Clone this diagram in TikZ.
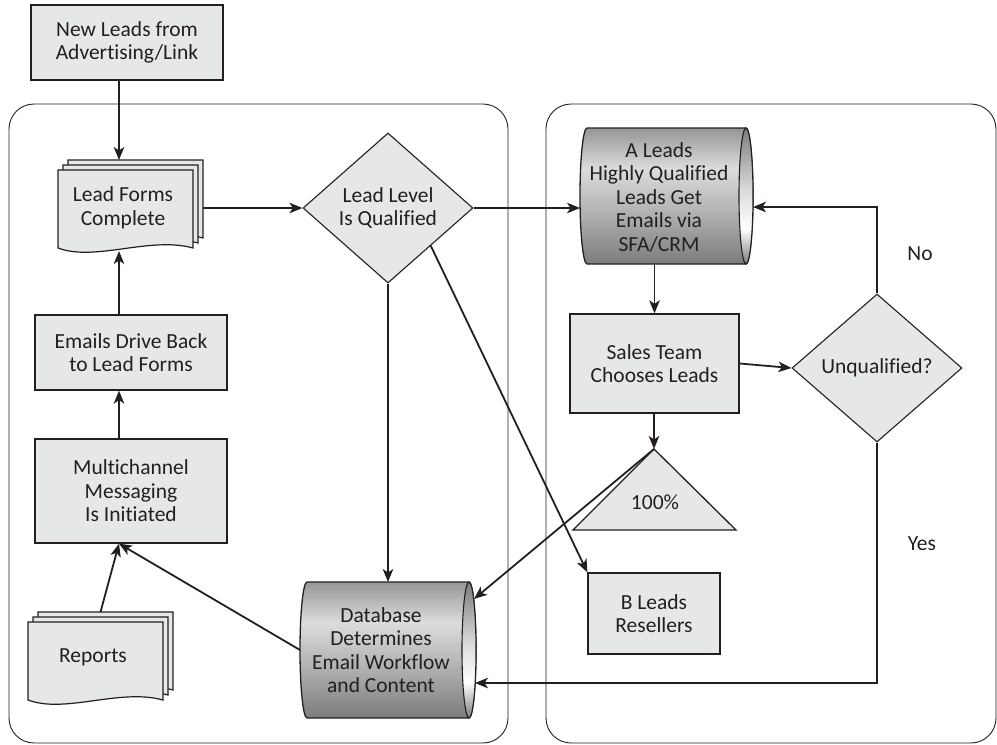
\documentclass[tikz,border=0pt]{standalone}
\usepackage{fontspec}
\setmainfont[Ligatures=NoCommon]{Carlito}
\usetikzlibrary{shapes.geometric,arrows.meta,calc}
\pgfdeclarelayer{bg}
\pgfsetlayers{bg,main}
\definecolor{boxfill}{HTML}{E6E7E8}
\definecolor{ink}{HTML}{231F20}
\definecolor{cylD}{HTML}{7C7C7C}
\definecolor{cylM}{HTML}{ACACAC}
\definecolor{cylL}{HTML}{DCDCDC}
\definecolor{cylT}{HTML}{969696}
\pgfdeclareverticalshading{cylbody}{100bp}{color(0bp)=(cylD); color(25bp)=(cylD); color(42bp)=(cylM); color(60bp)=(cylL); color(75bp)=(cylT); color(100bp)=(cylT)}
\pgfdeclareverticalshading{cylcap}{100bp}{color(0bp)=(cylD); color(25bp)=(cylD); color(38bp)=(white); color(52bp)=(cylL); color(75bp)=(cylD); color(100bp)=(cylD)}
\newcommand\dfont{\fontsize{21.5}{23.5}\selectfont}
\newcommand\docpage[2]{%
  \path[docpg] (#1,#2) -- ++(135,0) -- ++(0,78)
    .. controls ($(#1,#2)+(92,66)$) and ($(#1,#2)+(37,92)$) .. ($(#1,#2)+(0,78)$) -- cycle;}
\newcommand\cylshape[3]{% node name, x radius, y radius
  \path[cylbd] ($(#1.north west)+(#2,0)$) -- ($(#1.north east)+(-#2,0)$)
    arc[start angle=-90,end angle=90,x radius=#2,y radius=#3]
    -- ($(#1.south west)+(#2,0)$)
    arc[start angle=90,end angle=270,x radius=#2,y radius=#3] -- cycle;
  \path[cylcp] ($(#1.east)+(-#2,0)$) ellipse[x radius=#2,y radius=#3];}
\begin{document}
\begin{tikzpicture}[x=1pt,y=-1pt,
  box/.style={draw=ink,line width=1.3pt,fill=boxfill,align=center,inner sep=0pt,font=\dfont,text=ink},
  dmd/.style={diamond,draw=ink,line width=1.1pt,fill=boxfill,align=center,inner sep=0pt,font=\dfont,text=ink},
  anchorbox/.style={inner sep=0pt,outer sep=0pt},
  txt/.style={align=center,inner sep=0pt,font=\dfont,text=ink},
  docpg/.style={draw=ink,line width=1.2pt,fill=boxfill},
  cylbd/.style={draw=ink,line width=1.3pt,shading=cylbody},
  cylcp/.style={draw=ink,line width=1.1pt,shading=cylcap},
  panel/.style={draw=ink,line width=0.9pt,rounded corners=25pt},
  arr/.style={draw=ink,line width=1.8pt,-{Stealth[length=13pt,width=10.5pt,inset=3.5pt]}}]
\useasboundingbox (0,0) rectangle (997,745);
% panels
\path[panel] (9,104) rectangle (508,743);
\path[panel] (546,104) rectangle (996,743);
% helper column
\coordinate (col) at (119,0);
% nodes
\node[box,minimum width=192pt,minimum height=75pt] (newleads) at (127,42.5) {New Leads from\\Advertising/Link};
\node[anchorbox,minimum width=145pt,minimum height=91pt] (leadforms) at (130.5,205.5) {};
\node[txt] (leadformslbl) at (123,208) {Lead Forms\\Complete};
\node[box,minimum width=192pt,minimum height=75pt] (emails) at (131,352.5) {Emails Drive Back\\to Lead Forms};
\node[box,minimum width=192pt,minimum height=104pt] (multi) at (131,491) {Multichannel\\Messaging\\Is Initiated};
\node[anchorbox,minimum width=145pt,minimum height=96pt] (reports) at (100.5,660) {};
\node[txt] (reportslbl) at (93,657) {Reports};
\node[dmd,minimum width=170pt,minimum height=150pt] (lead) at (388,208) {Lead Level\\Is Qualified};
\node[anchorbox,minimum width=176pt,minimum height=136pt] (db) at (388,650) {};
\node[anchorbox,minimum width=173pt,minimum height=136pt] (alead) at (666.5,196) {};
\node[box,minimum width=169pt,minimum height=99pt] (sales) at (654.5,363.5) {Sales Team\\Chooses Leads};
\node[dmd,minimum width=170pt,minimum height=148pt] (unq) at (877,368) {Unqualified?};
\coordinate (triapex) at (654,449);
\coordinate (trileft) at (573,530);
\coordinate (triright) at (736,530);
\node[box,minimum width=132pt,minimum height=81pt] (bleads) at (654,613.5) {B Leads\\Resellers};
% background shapes
\begin{pgfonlayer}{bg}
  \docpage{68}{160}
  \docpage{63}{165}
  \docpage{58}{170}
  \docpage{38}{612}
  \docpage{33}{617}
  \docpage{28}{622}
  \cylshape{alead}{7}{68}
  \cylshape{db}{7}{68}
\end{pgfonlayer}
\path[draw=ink,line width=1.3pt,fill=boxfill] (triapex) -- (triright) -- (trileft) -- cycle;
\node[txt] (pct) at (655,502) {100\%};
\node[txt] (aleadlbl) at (659,197) {A Leads\\Highly Qualified\\Leads Get\\Emails via\\SFA/CRM};
\node[txt] (dblbl) at (381,650) {Database\\Determines\\Email Workflow\\and Content};
\node[txt] (nolbl) at (920,254) {No};
\node[txt] (yeslbl) at (922,544) {Yes};
% connectors
\draw[arr] (newleads.south -| col) -- (leadforms.north -| col);
\draw[arr] (leadforms.east |- lead.west) -- (lead.west);
\draw[arr] (emails.north -| col) -- (leadforms.south -| col);
\draw[arr] (multi.north -| col) -- (emails.south -| col);
\draw[arr] (reports.north) -- (multi.south -| col);
\draw[arr] (db.west) -- (multi.south -| col);
\draw[arr] (lead.south) -- (db.north);
\draw[arr] (lead.east) -- (alead.west |- lead.east);
\draw[arr] (lead.south east) -- (bleads.north west);
\draw[arr] (alead.south -| sales.north) -- (sales.north);
\draw[arr] (sales.east) -- (unq.west);
\draw[arr] (unq.north) |- ($(alead.east)+(0,11)$);
\draw[arr] (sales.south -| triapex) -- (triapex);
\draw[arr] (triapex) -- ($(db.east)+(-2,-51)$);
\draw[arr] (unq.south) |- ($(db.east)+(-1,33)$);
\end{tikzpicture}
\end{document}
